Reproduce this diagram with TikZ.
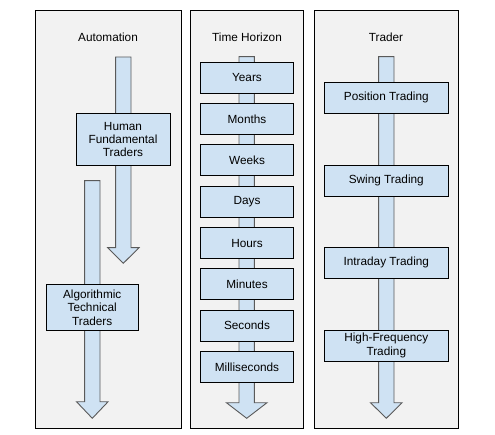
\documentclass[tikz,border=0pt]{standalone}
\usepackage{fontspec}
\setmainfont{Liberation Sans}
\definecolor{panelfill}{HTML}{F2F2F2}
\definecolor{boxfill}{HTML}{CFE2F3}
\definecolor{arrowline}{HTML}{5A5A5A}
\newcommand\barrow[5]{% cx, top, headstart, tip, head half width
  \draw[arrowbody] ({#1-7.7},#2) -- ({#1+7.7},#2) -- ({#1+7.7},#3) -- ({#1+#5},#3)
    -- (#1,#4) -- ({#1-#5},#3) -- ({#1-7.7},#3) -- cycle;}
\begin{document}
\begin{tikzpicture}[x=1pt,y=-1pt,
  panel/.style={draw=black,fill=panelfill,line width=0.9pt},
  arrowbody/.style={draw=arrowline,fill=boxfill,line width=0.9pt,line join=miter},
  stage/.style={draw=black,fill=boxfill,line width=0.8pt,align=center,inner sep=1pt,
    font=\fontsize{11.8}{13.3}\selectfont},
  title/.style={font=\fontsize{11.8}{13.3}\selectfont}]
\useasboundingbox (0,0) rectangle (495,435);
% panels
\draw[panel] (35,10) rectangle (181,428);
\draw[panel] (190,10) rectangle (303,428);
\draw[panel] (314,10) rectangle (458,428);
\node[title] (t1) at (108,37) {Automation};
\node[title] (t2) at (247,37) {Time Horizon};
\node[title] (t3) at (386,37) {Trader};
% panel 1
\barrow{123.3}{57}{247.7}{263.3}{15.7}
\barrow{92.3}{180.7}{401.7}{418.3}{15.8}
\node[stage,minimum width=94pt,minimum height=52.4pt] (human) at (123,139.5) {Human\\Fundamental\\Traders};
\node[stage,minimum width=92.3pt,minimum height=46.4pt] (algo) at (92.2,307.5) {Algorithmic\\Technical\\Traders};
% panel 2
\barrow{246.7}{56.7}{402.7}{418.3}{20.3}
\foreach \t [count=\i from 0] in {Years,Months,Weeks,Days,Hours,Minutes,Seconds,Milliseconds}{
  \node[stage,minimum width=92.6pt,minimum height=31pt] (h\i) at (247,{77.8+41.3*\i}) {\t};
}
% panel 3
\barrow{386.3}{56.7}{402.7}{418.3}{15.8}
\node[stage,minimum width=124pt,minimum height=31pt] (pos) at (386.3,97.8) {Position Trading};
\node[stage,minimum width=124pt,minimum height=31pt] (swing) at (386.3,180.9) {Swing Trading};
\node[stage,minimum width=124pt,minimum height=31pt] (intra) at (386.3,262.8) {Intraday Trading};
\node[stage,minimum width=124pt,minimum height=31pt] (hft) at (386.3,345.5) {High-Frequency\\Trading};
\end{tikzpicture}
\end{document}
